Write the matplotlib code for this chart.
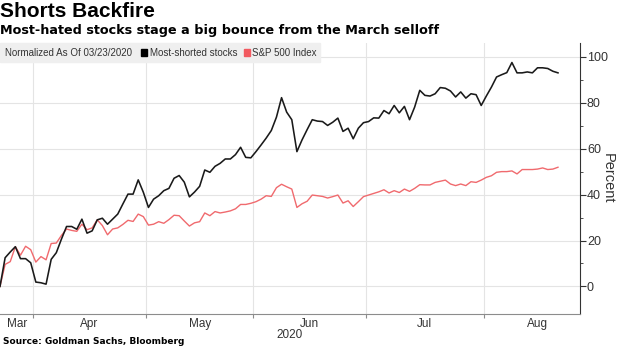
import numpy as np
import pandas as pd
import matplotlib
matplotlib.use("Agg")
from matplotlib import pyplot as plt
from matplotlib.patches import Rectangle

plt.rcParams['font.family'] = ['Liberation Sans', 'DejaVu Sans']

# trading days shown, normalized as of 03/23/2020
dates = pd.bdate_range("2020-03-23", "2020-08-21")

most_shorted = [
    0.0, 12.5, 15.0, 17.3, 12.1, 12.1, 10.3, 1.9, 1.6, 1.0,
    11.8, 14.7, 20.6, 26.1, 26.1, 24.9, 29.3, 23.2, 24.2, 29.0,
    29.7, 27.1, 29.3, 31.5, 35.9, 40.2, 40.2, 46.4, 41.0, 34.4,
    38.0, 39.5, 41.7, 42.7, 47.1, 48.3, 45.4, 39.0, 41.1, 43.6,
    50.7, 49.7, 52.3, 53.6, 55.5, 55.5, 57.4, 60.6, 56.2, 56.0,
    58.7, 61.6, 64.6, 67.9, 73.7, 82.2, 75.9, 72.6, 58.7, 63.8,
    68.3, 72.6, 72.0, 71.8, 70.1, 71.5, 73.3, 67.5, 68.9, 64.3,
    68.9, 71.3, 71.8, 73.4, 73.3, 76.6, 75.2, 78.8, 75.6, 78.4,
    72.6, 78.1, 85.4, 83.2, 82.9, 83.9, 86.6, 86.3, 85.1, 82.5,
    84.7, 82.0, 83.9, 83.5, 78.8, 82.9, 86.8, 91.2, 92.2, 93.1,
    97.5, 93.0, 93.0, 93.4, 93.0, 95.2, 95.2, 94.9, 93.7, 93.0,
]

sp500 = [
    0.0, 9.6, 10.8, 17.3, 13.6, 17.5, 16.0, 10.6, 13.0, 11.6,
    18.7, 18.9, 22.2, 25.0, 24.4, 24.0, 27.1, 24.7, 25.5, 29.0,
    26.5, 22.5, 25.0, 25.5, 27.0, 28.8, 28.3, 31.5, 30.4, 26.7,
    27.1, 28.2, 27.5, 29.1, 31.0, 30.8, 28.5, 26.3, 27.7, 28.2,
    32.0, 30.8, 32.6, 32.0, 32.4, 32.9, 33.8, 35.7, 35.7, 36.2,
    36.9, 38.0, 39.5, 39.2, 43.0, 44.5, 43.4, 42.4, 34.4, 36.0,
    37.1, 39.8, 39.5, 39.2, 38.5, 39.1, 39.8, 36.3, 37.3, 34.8,
    36.9, 39.1, 39.8, 40.5, 41.2, 42.1, 40.7, 41.7, 40.9, 42.4,
    41.4, 42.7, 44.3, 44.2, 44.2, 45.3, 45.8, 46.3, 44.6, 43.9,
    44.6, 43.9, 45.6, 45.3, 46.3, 47.5, 48.2, 49.7, 50.0, 50.0,
    50.3, 49.0, 50.9, 50.9, 50.9, 51.1, 51.6, 50.9, 51.1, 51.9,
]

y_ticks = [0, 20, 40, 60, 80, 100]
month_names = ["Mar", "Apr", "May", "Jun", "Jul", "Aug"]

x = np.arange(len(dates))
x_left, x_right = 0.0, 113.3

# month boundaries on the trading-day index
full = pd.bdate_range("2020-03-01", "2020-08-31")
full_idx = np.arange(len(full)) - full.get_loc(dates[0])
bounds = []
centers = []
for m in range(3, 9):
    sel = full_idx[full.month == m]
    lo, hi = sel[0] - 0.5, sel[-1] + 0.5
    if m > 3:
        bounds.append(lo)
    centers.append((max(lo, x_left) + hi) / 2)

fig = plt.figure(figsize=(6.2, 3.48), dpi=100)
ax = fig.add_axes([0, 1 - 314 / 348, 580 / 620, (314 - 43) / 348])

ax.plot(x, sp500, color='#f06a6e', lw=1.0, zorder=3)
ax.plot(x, most_shorted, color='#1a1a1a', lw=1.15, zorder=4)

ax.set_xlim(x_left, x_right)
ax.set_ylim(-12, 106)

for b in bounds:
    ax.axvline(b, color='#e4e4e4', lw=0.8, zorder=1)
for t in y_ticks:
    ax.axhline(t, color='#e4e4e4', lw=0.8, zorder=1)

ax.spines['top'].set_visible(False)
ax.spines['left'].set_visible(False)
ax.spines['right'].set_color('#333333')
ax.spines['bottom'].set_color('#8c8c8c')

ax.yaxis.tick_right()
ax.yaxis.set_label_position('right')
ax.set_yticks(y_ticks)
ax.set_yticks([10, 30, 50, 70, 90], minor=True)
ax.tick_params(axis='y', which='major', length=4, color='#333333',
               labelsize=9, labelcolor='#333333', pad=1)
ax.tick_params(axis='y', which='minor', length=2.5, color='#333333')
ax.set_ylabel('Percent', rotation=270, fontsize=10.5, color='#333333', labelpad=5)

ax.set_xticks(bounds)
ax.set_xticklabels([])
ax.set_xticks(centers, minor=True)
ax.set_xticklabels(month_names, minor=True)
ax.tick_params(axis='x', which='major', length=3, color='#8c8c8c')
ax.tick_params(axis='x', which='minor', length=0, labelsize=8.5,
               labelcolor='#333333', pad=3)
fig.text(290 / 620, 1 - 335 / 348, '2020', ha='center', va='center',
         fontsize=8.5, color='#333333')

# legend strip
fig.patches.append(Rectangle((0, 1 - 62 / 348), 320 / 620, 19 / 348,
                             transform=fig.transFigure, color='#efefef', zorder=0))
fig.text(5 / 620, 1 - 52.5 / 348, 'Normalized As Of 03/23/2020', fontsize=7,
         va='center', color='#333333')
fig.patches.append(Rectangle((141 / 620, 1 - 55.5 / 348), 6 / 620, 6 / 348,
                             transform=fig.transFigure, color='#000000'))
fig.text(150 / 620, 1 - 52.5 / 348, 'Most-shorted stocks', fontsize=7,
         va='center', color='#333333')
fig.patches.append(Rectangle((244 / 620, 1 - 55.5 / 348), 6 / 620, 6 / 348,
                             transform=fig.transFigure, color='#f25a60'))
fig.text(252 / 620, 1 - 52.5 / 348, 'S&P 500 Index', fontsize=7,
         va='center', color='#333333')

fig.text(0.0, 1 - 2 / 348, 'Shorts Backfire', fontsize=15, fontweight='bold',
         va='top')
fig.text(0.0, 1 - 24 / 348, 'Most-hated stocks stage a big bounce from the March selloff',
         fontsize=9.2, fontweight='bold', va='top', family=['DejaVu Sans'])
fig.text(3 / 620, 1 - 341 / 348, 'Source: Goldman Sachs, Bloomberg', fontsize=6.5,
         fontweight='bold', va='center', family=['DejaVu Sans'])

fig.savefig('out.png', dpi=100)
